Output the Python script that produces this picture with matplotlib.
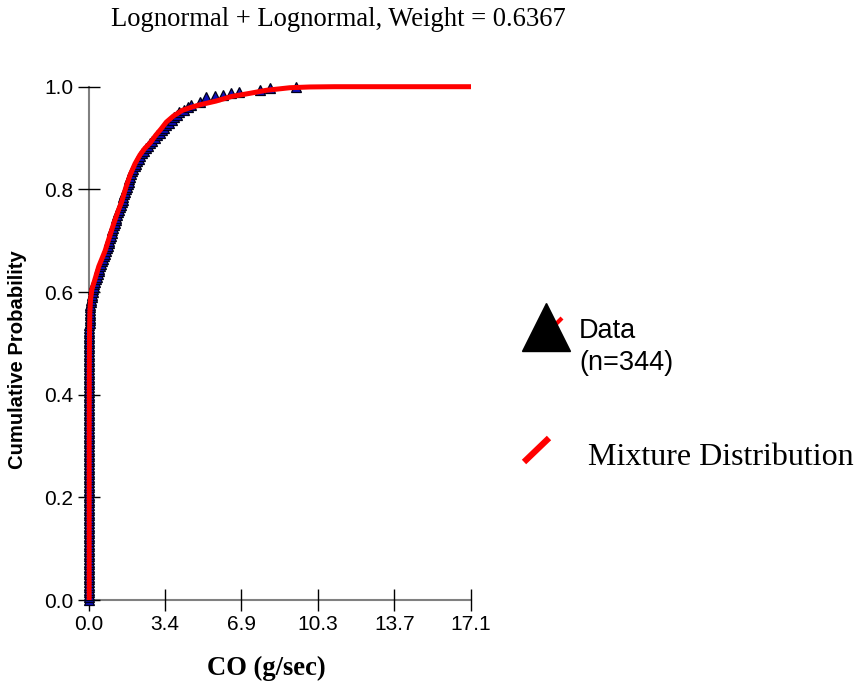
import matplotlib
matplotlib.use('Agg')
import matplotlib.pyplot as plt
from matplotlib.lines import Line2D

plt.rcParams['font.family'] = ['Liberation Sans', 'DejaVu Sans']

# ---------------- data ----------------
title_text = "Lognormal + Lognormal, Weight = 0.6367"
x_label = "CO (g/sec)"
y_label = "Cumulative Probability"
x_ticks = [0.0, 3.42, 6.84, 10.26, 13.68, 17.1]
x_tick_labels = ["0.0", "3.4", "6.9", "10.3", "13.7", "17.1"]
y_ticks = [0.0, 0.2, 0.4, 0.6, 0.8, 1.0]
y_tick_labels = ["0.0", "0.2", "0.4", "0.6", "0.8", "1.0"]
legend_data = ["Data", "(n=344)"]
legend_mix = "Mixture Distribution"

# empirical data points: cumulative probability (data_p) vs CO (data_x)
data_p = [
    0.000, 0.005, 0.010, 0.015, 0.020, 0.025, 0.030, 0.035, 0.040, 0.045,
    0.050, 0.055, 0.060, 0.065, 0.070, 0.075, 0.080, 0.085, 0.090, 0.095,
    0.100, 0.105, 0.110, 0.115, 0.120, 0.125, 0.130, 0.135, 0.140, 0.145,
    0.150, 0.155, 0.160, 0.165, 0.170, 0.175, 0.180, 0.185, 0.190, 0.195,
    0.200, 0.205, 0.210, 0.215, 0.220, 0.225, 0.230, 0.235, 0.240, 0.245,
    0.250, 0.255, 0.260, 0.265, 0.270, 0.275, 0.280, 0.285, 0.290, 0.295,
    0.300, 0.305, 0.310, 0.315, 0.320, 0.325, 0.330, 0.335, 0.340, 0.345,
    0.350, 0.355, 0.360, 0.365, 0.370, 0.375, 0.380, 0.385, 0.390, 0.395,
    0.400, 0.405, 0.410, 0.415, 0.420, 0.425, 0.430, 0.435, 0.440, 0.445,
    0.450, 0.455, 0.460, 0.465, 0.470, 0.475, 0.480, 0.485, 0.490, 0.495,
    0.500, 0.505, 0.510, 0.515, 0.520, 0.525, 0.530, 0.535, 0.540, 0.545,
    0.550, 0.555, 0.560, 0.565, 0.570, 0.575, 0.580, 0.585, 0.590, 0.595,
    0.600, 0.605, 0.610, 0.615, 0.620, 0.625, 0.630, 0.635, 0.640, 0.645,
    0.650, 0.655, 0.660, 0.665, 0.670, 0.675, 0.680, 0.685, 0.690, 0.695,
    0.700, 0.705, 0.710, 0.715, 0.720, 0.725, 0.730, 0.735, 0.740, 0.745,
    0.750, 0.755, 0.760, 0.765, 0.770, 0.775, 0.780, 0.785, 0.790, 0.795,
    0.800, 0.805, 0.810, 0.815, 0.820, 0.825, 0.830, 0.835, 0.840, 0.845,
    0.850, 0.855, 0.860, 0.865, 0.870, 0.875, 0.880, 0.885, 0.890, 0.895,
    0.900, 0.905, 0.910, 0.915, 0.920, 0.925, 0.930, 0.935, 0.940, 0.945,
    0.950, 0.955, 0.960, 0.964, 0.971, 0.979, 0.981, 0.984, 0.987, 0.990,
    0.994, 0.997, 1.000]
data_x = [
    0.02, 0.02, 0.02, 0.02, 0.02, 0.02, 0.02, 0.02, 0.02, 0.02,
    0.02, 0.02, 0.02, 0.02, 0.02, 0.02, 0.02, 0.02, 0.02, 0.02,
    0.02, 0.02, 0.02, 0.02, 0.02, 0.02, 0.02, 0.02, 0.02, 0.02,
    0.02, 0.02, 0.02, 0.02, 0.02, 0.02, 0.02, 0.02, 0.02, 0.02,
    0.02, 0.02, 0.02, 0.02, 0.02, 0.02, 0.02, 0.02, 0.02, 0.02,
    0.02, 0.02, 0.02, 0.02, 0.02, 0.02, 0.02, 0.02, 0.02, 0.02,
    0.02, 0.02, 0.02, 0.02, 0.02, 0.02, 0.02, 0.02, 0.02, 0.02,
    0.02, 0.02, 0.02, 0.02, 0.02, 0.02, 0.02, 0.02, 0.02, 0.02,
    0.03, 0.03, 0.03, 0.03, 0.03, 0.03, 0.03, 0.03, 0.03, 0.03,
    0.03, 0.03, 0.03, 0.03, 0.03, 0.03, 0.03, 0.03, 0.03, 0.03,
    0.04, 0.04, 0.04, 0.04, 0.04, 0.04, 0.04, 0.04, 0.05, 0.05,
    0.05, 0.05, 0.055, 0.06, 0.07, 0.085, 0.10, 0.115, 0.14, 0.16,
    0.18, 0.20, 0.23, 0.26, 0.29, 0.33, 0.37, 0.41, 0.45, 0.49,
    0.52, 0.56, 0.60, 0.64, 0.69, 0.73, 0.78, 0.82, 0.86, 0.90,
    0.93, 0.96, 1.00, 1.03, 1.06, 1.10, 1.13, 1.17, 1.21, 1.25,
    1.29, 1.33, 1.37, 1.41, 1.45, 1.49, 1.53, 1.56, 1.60, 1.63,
    1.67, 1.71, 1.75, 1.79, 1.83, 1.87, 1.91, 1.96, 2.01, 2.06,
    2.12, 2.18, 2.24, 2.31, 2.39, 2.48, 2.56, 2.64, 2.74, 2.84,
    2.96, 3.07, 3.18, 3.28, 3.38, 3.48, 3.58, 3.72, 3.83, 3.94,
    4.05, 4.25, 4.45, 4.60, 4.97, 5.27, 5.64, 6.01, 6.39, 6.73,
    7.65, 8.13, 9.27]

# fitted mixture distribution
mix_x = [0.03, 0.03, 0.035, 0.045, 0.06, 0.09, 0.15, 0.27, 0.46, 0.74,
         0.92, 1.11, 1.30, 1.49, 1.68, 1.87, 2.08, 2.30, 2.52, 2.75,
         3.00, 3.25, 3.48, 3.80, 4.20, 4.60, 5.00, 5.70, 6.40, 7.20,
         7.95, 9.00, 9.90, 11.0, 17.1]
mix_p = [0.000, 0.300, 0.450, 0.520, 0.560, 0.585, 0.605, 0.622, 0.650, 0.680,
         0.705, 0.731, 0.755, 0.777, 0.805, 0.829, 0.850, 0.867, 0.880, 0.890,
         0.905, 0.918, 0.931, 0.943, 0.954, 0.960, 0.965, 0.972, 0.981, 0.987,
         0.993, 0.998, 0.9995, 1.000, 1.000]

# ---------------- figure ----------------
W, H = 859, 683
fig = plt.figure(figsize=(W / 100, H / 100), dpi=100)


def fx(px):
    return px / W


def fy(py):
    return 1 - py / H


ax = fig.add_axes([fx(88.5), fy(600), (471 - 88.5) / W, (600 - 86.7) / H])

ax.plot(data_x, data_p, ls='none', marker='^', ms=6.5, mfc='#0E0EB8',
        mec='#000018', mew=0.9, clip_on=False, zorder=3)
ax.plot(mix_x, mix_p, color='#FF0000', lw=3.6, solid_capstyle='butt',
        solid_joinstyle='round', clip_on=False, zorder=4)

ax.set_xlim(0, 17.1)
ax.set_ylim(0, 1.0)
for s in ['top', 'right']:
    ax.spines[s].set_visible(False)
for s in ['left', 'bottom']:
    ax.spines[s].set_color('#808080')
    ax.spines[s].set_linewidth(1.5)
    ax.spines[s].set_zorder(1)

ax.set_xticks(x_ticks)
ax.set_xticklabels(x_tick_labels)
ax.set_yticks(y_ticks)
ax.set_yticklabels(y_tick_labels)
ax.tick_params(direction='inout', length=16, width=1, color='black',
               labelsize=15, pad=3)

# titles / labels
fig.text(fx(338), fy(26), title_text, ha='center', va='baseline',
         family='Liberation Serif', fontsize=19.2)
fig.text(fx(266), fy(675), x_label, ha='center', va='baseline',
         family='Liberation Serif', fontweight='bold', fontsize=19.2)
fig.text(fx(18), fy(360), y_label, ha='center', va='center', rotation=90,
         family='Liberation Sans', fontweight='bold', fontsize=14.6)

# legend (drawn manually)
fig.add_artist(Line2D([fx(537), fx(562)], [fy(343), fy(318)], color='#FF0000',
                      lw=3, solid_capstyle='butt', transform=fig.transFigure,
                      zorder=5))
fig.add_artist(Line2D([fx(546)], [fy(327)], ls='none', marker='^', ms=34,
                      mfc='black', mec='black', transform=fig.transFigure,
                      zorder=6))
fig.text(fx(579), fy(338), legend_data[0], ha='left', va='baseline',
         family='Liberation Sans', fontsize=19.5)
fig.text(fx(579), fy(370), legend_data[1], ha='left', va='baseline',
         family='Liberation Sans', fontsize=19.5)
fig.add_artist(Line2D([fx(524), fx(549)], [fy(462), fy(438)], color='#FF0000',
                      lw=4.5, solid_capstyle='butt', transform=fig.transFigure))
fig.text(fx(588), fy(465), legend_mix, ha='left', va='baseline',
         family='Liberation Serif', fontsize=23)

fig.savefig('out.png', dpi=100)
